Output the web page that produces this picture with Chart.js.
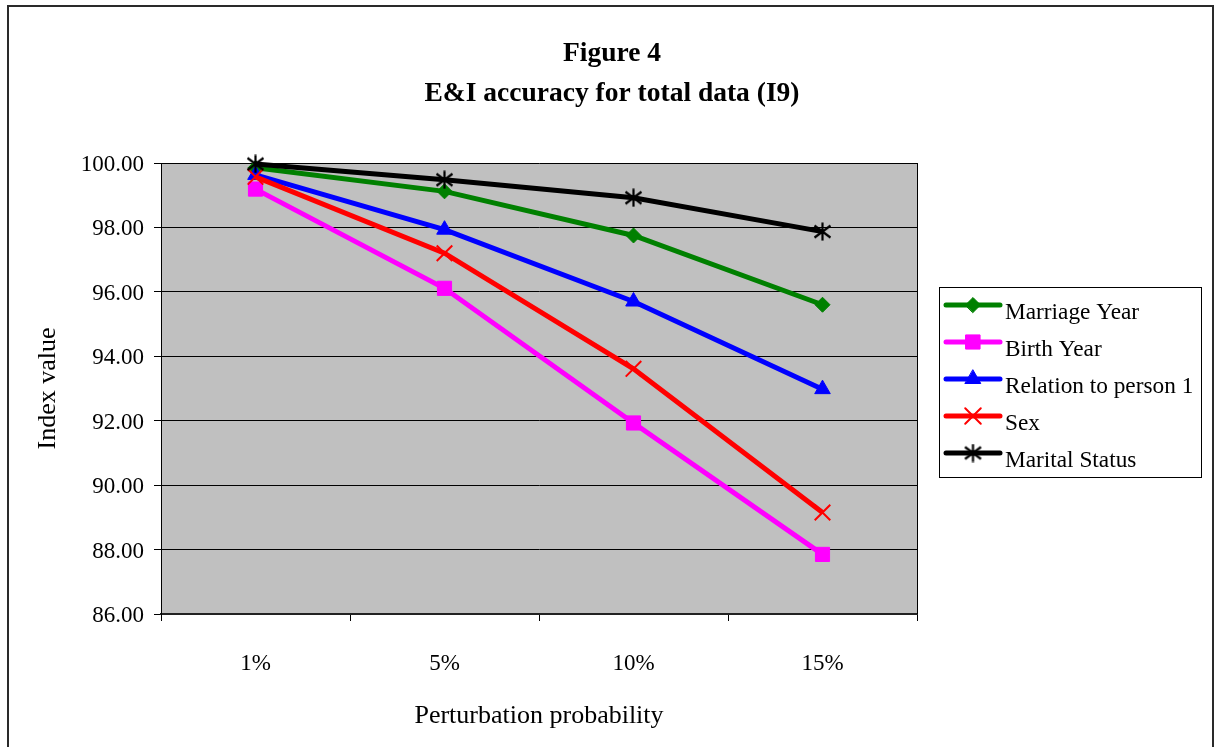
<!DOCTYPE html>
<html>
<head>
<meta charset="utf-8">
<script src="https://cdn.jsdelivr.net/npm/chart.js"></script>
<style>
  body { margin: 0; background: #fff; }
  #wrap { width: 1222px; height: 747px; }
</style>
</head>
<body>
<div id="wrap"><canvas id="chartLine" width="1222" height="747"></canvas></div>
<script>
const labels = ["1%", "5%", "10%", "15%"];
const marriageYear = [99.85, 99.12, 97.75, 95.60];
const birthYear = [99.19, 96.11, 91.93, 87.85];
const relationToPerson1 = [99.63, 97.93, 95.70, 92.98];
const sex = [99.57, 97.20, 93.61, 89.15];
const maritalStatus = [99.97, 99.48, 98.92, 97.87];
const titleLines = ["Figure 4", "E&I accuracy for total data (I9)"];

const serif = "'Liberation Serif', 'Times New Roman', serif";

// excel-like asterisk marker (vertical bar + X)
function makeStar(size, color) {
    const c = document.createElement("canvas");
    c.width = size; c.height = size;
    const g = c.getContext("2d");
    const m = size / 2;
    g.strokeStyle = color;
    g.lineWidth = 2.2;
    g.beginPath();
    g.moveTo(m, 0.5); g.lineTo(m, size - 0.5);
    g.moveTo(1.5, 3.5); g.lineTo(size - 1.5, size - 3.5);
    g.moveTo(size - 1.5, 3.5); g.lineTo(1.5, size - 3.5);
    g.stroke();
    return c;
}
const starImg = makeStar(19, "#000");

function series(label, values, color, style, radius, pbw, order) {
    return {
        label: label,
        data: values,
        borderColor: color,
        backgroundColor: color,
        borderWidth: 5,
        pointStyle: style,
        pointRadius: radius,
        pointHoverRadius: radius,
        pointBorderWidth: pbw,
        pointBorderColor: color,
        pointBackgroundColor: color,
        tension: 0,
        clip: false,
        order: order
    };
}

const data = {
    labels: labels,
    datasets: [
        series("Marriage Year", marriageYear, "#008000", "rectRot", 7.5, 1, 5),
        series("Birth Year", birthYear, "#ff00ff", "rect", 10, 1, 4),
        series("Relation to person 1", relationToPerson1, "#0000ff", "triangle", 9, 1, 3),
        series("Sex", sex, "#ff0000", "crossRot", 11, 2, 2),
        series("Marital Status", maritalStatus, "#000000", starImg, 9, 1, 1)
    ]
};

function drawMarker(ctx, ds, x, y) {
    const r = ds.pointRadius;
    ctx.save();
    ctx.fillStyle = ds.backgroundColor;
    ctx.strokeStyle = ds.borderColor;
    ctx.lineWidth = ds.pointBorderWidth;
    ctx.beginPath();
    if (ds.pointStyle === "rectRot") {
        ctx.moveTo(x - r, y); ctx.lineTo(x, y - r); ctx.lineTo(x + r, y); ctx.lineTo(x, y + r);
        ctx.closePath(); ctx.fill(); ctx.stroke();
    } else if (ds.pointStyle === "rect") {
        const s = r * Math.SQRT1_2;
        ctx.rect(x - s, y - s, 2 * s, 2 * s); ctx.fill(); ctx.stroke();
    } else if (ds.pointStyle === "triangle") {
        const w = r * Math.sqrt(3) / 2;
        ctx.moveTo(x, y - r); ctx.lineTo(x + w, y + r / 2); ctx.lineTo(x - w, y + r / 2);
        ctx.closePath(); ctx.fill(); ctx.stroke();
    } else if (ds.pointStyle === "crossRot") {
        const s = r * Math.SQRT1_2;
        ctx.moveTo(x - s, y - s); ctx.lineTo(x + s, y + s);
        ctx.moveTo(x + s, y - s); ctx.lineTo(x - s, y + s);
        ctx.stroke();
    } else {
        ctx.drawImage(ds.pointStyle, x - ds.pointStyle.width / 2, y - ds.pointStyle.height / 2);
    }
    ctx.restore();
}

const frame = {
    id: "frame",
    beforeDraw(chart) {
        const ctx = chart.ctx, a = chart.chartArea;
        ctx.save();
        ctx.fillStyle = "#c0c0c0";
        ctx.fillRect(a.left, a.top, a.right - a.left, a.bottom - a.top);
        ctx.restore();
    },
    afterDraw(chart) {
        const ctx = chart.ctx, a = chart.chartArea;
        ctx.save();
        // plot right edge
        ctx.strokeStyle = "#000";
        ctx.lineWidth = 1;
        ctx.beginPath();
        ctx.moveTo(Math.round(a.right) + 0.5, a.top);
        ctx.lineTo(Math.round(a.right) + 0.5, a.bottom);
        ctx.stroke();
        // outer border
        ctx.strokeStyle = "#2a2a2a";
        ctx.lineWidth = 2;
        ctx.strokeRect(8, 6, 1205, 800);
        // title, centred on the whole figure
        ctx.fillStyle = "#000";
        ctx.font = "bold 27.5px " + serif;
        ctx.textAlign = "center";
        ctx.textBaseline = "middle";
        ctx.fillText(titleLines[0], 612, 54);
        ctx.fillText(titleLines[1], 612, 94);
        // legend
        ctx.textAlign = "left";
        ctx.lineWidth = 1;
        ctx.strokeStyle = "#000";
        ctx.strokeRect(939.5, 287.5, 262, 190);
        ctx.font = "23.3px " + serif;
        chart.data.datasets.forEach(function(ds, i) {
            const y = 305 + i * 37;
            ctx.strokeStyle = ds.borderColor;
            ctx.lineWidth = 5;
            ctx.lineCap = "round";
            ctx.beginPath();
            ctx.moveTo(946, y);
            ctx.lineTo(1000, y);
            ctx.stroke();
            drawMarker(ctx, ds, 973, y);
            ctx.fillStyle = "#000";
            ctx.fillText(ds.label, 1005, y + 8);
        });
        ctx.restore();
    }
};

const configLineChart = {
    type: "line",
    data,
    options: {
        responsive: false,
        animation: false,
        events: [],
        layout: { padding: { top: 163, right: 305, bottom: 0, left: 0 } },
        plugins: {
            legend: { display: false },
            tooltip: { enabled: false },
            title: { display: false }
        },
        scales: {
            x: {
                offset: true,
                grid: { display: true, drawOnChartArea: false, offset: true, tickLength: 7, color: "#000" },
                border: { display: true, color: "#222", width: 2 },
                ticks: { color: "#000", padding: 29, font: { family: serif, size: 23 } },
                title: {
                    display: true,
                    text: "Perturbation probability",
                    color: "#000",
                    font: { family: serif, size: 26 },
                    padding: { top: 0, bottom: 15 }
                },
                afterFit(scale) { scale.height = 133; }
            },
            y: {
                min: 86,
                max: 100,
                ticks: {
                    stepSize: 2,
                    color: "#000",
                    padding: 10,
                    labelOffset: 2,
                    font: { family: serif, size: 23 },
                    callback: function(v) { return Number(v).toFixed(2); }
                },
                grid: { color: "#000", lineWidth: 1, tickLength: 7 },
                border: { display: true, color: "#000", width: 1 },
                title: {
                    display: true,
                    text: "Index value",
                    color: "#000",
                    font: { family: serif, size: 26 },
                    padding: { top: 33, bottom: 0 }
                },
                afterFit(scale) { scale.width = 161; }
            }
        }
    },
    plugins: [frame]
};

var chartLine = new Chart(
    document.getElementById("chartLine"),
    configLineChart
);
</script>
</body>
</html>
